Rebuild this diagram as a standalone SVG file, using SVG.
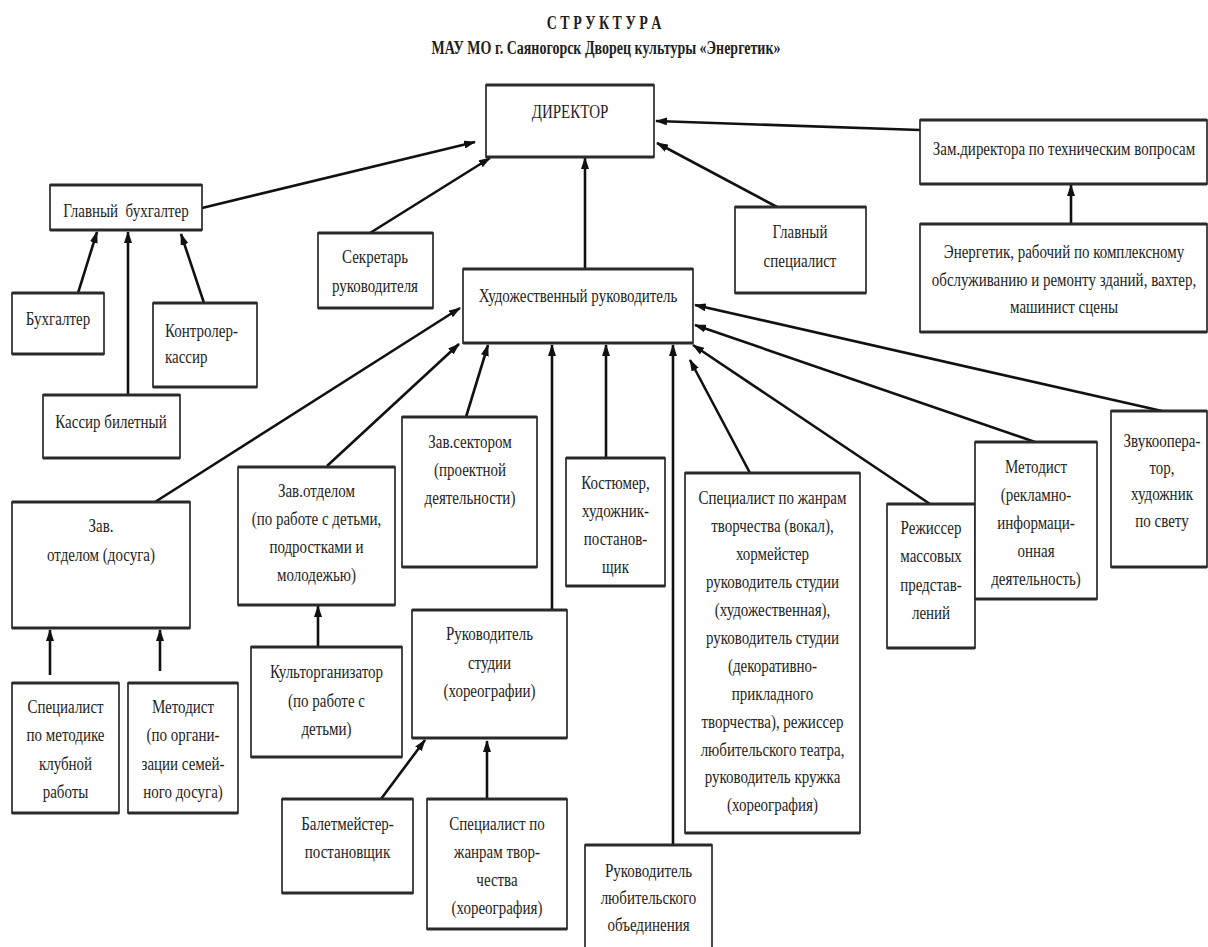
<svg xmlns="http://www.w3.org/2000/svg" width="1208" height="947" viewBox="0 0 1208 947">
<style>
.b{fill:#fff;stroke:#2a2a2a;stroke-width:1.7}
.e{fill:none;stroke:#2a2a2a;stroke-width:3}
.t{font-family:"Liberation Serif","Times New Roman",serif;font-size:15px;fill:#1e1e1e;text-anchor:middle}
.h{font-family:"Liberation Serif","Times New Roman",serif;font-size:14px;font-weight:bold;fill:#1e1e1e;text-anchor:middle}
.c line{stroke:#111;stroke-width:2.6;marker-end:url(#ah)}
</style>
<defs>
<marker id="ah" viewBox="0 0 12 8" refX="11" refY="4" markerWidth="12" markerHeight="8" orient="auto" markerUnits="userSpaceOnUse"><path d="M0,0 L12,4 L0,8 z" fill="#111"/></marker>
</defs>
<rect width="1208" height="947" fill="#fff"/>
<g id="title">
<text class="h" transform="translate(604,29) scale(1,1.3)">С Т Р У К Т У Р А</text>
<text class="h" transform="translate(606,54) scale(1,1.3)">МАУ МО г. Саяногорск Дворец культуры «Энергетик»</text>
</g>
<g id="connectors" class="c">
<line x1="202" y1="208" x2="475" y2="142"/>
<line x1="370" y1="233" x2="490" y2="158"/>
<line x1="585" y1="269" x2="585" y2="158"/>
<line x1="777" y1="207" x2="657" y2="143"/>
<line x1="920" y1="130" x2="656" y2="121"/>
<line x1="1071" y1="224" x2="1071" y2="185"/>
<line x1="78" y1="293" x2="97" y2="232"/>
<line x1="128" y1="395" x2="128" y2="232"/>
<line x1="204" y1="303" x2="181" y2="234"/>
<line x1="155" y1="502" x2="460" y2="308"/>
<line x1="327" y1="466" x2="459" y2="344"/>
<line x1="466" y1="417" x2="488" y2="345"/>
<line x1="552" y1="610" x2="552" y2="345"/>
<line x1="606" y1="458" x2="606" y2="345"/>
<line x1="673" y1="845" x2="673" y2="345"/>
<line x1="750" y1="473" x2="690" y2="360"/>
<line x1="930" y1="504" x2="693" y2="345"/>
<line x1="1035" y1="442" x2="695" y2="325"/>
<line x1="1162" y1="411" x2="695" y2="305"/>
<line x1="50" y1="675" x2="50" y2="630"/>
<line x1="160" y1="671" x2="160" y2="630"/>
<line x1="318" y1="647" x2="318" y2="606"/>
<line x1="381" y1="799" x2="425" y2="740"/>
<line x1="487" y1="799" x2="487" y2="741"/>
</g>
<g id="n-director"><rect class="b" x="486" y="85" width="168" height="72"/><path class="e" d="M486,85h168M486,157h168"/>
<text class="t" transform="translate(570,118) scale(1,1.3)"><tspan x="0" y="0">ДИРЕКТОР</tspan></text></g>
<g id="n-zam"><rect class="b" x="920" y="120" width="287" height="64"/><path class="e" d="M920,120h287M920,184h287"/>
<text class="t" transform="translate(1064,155) scale(1,1.3)"><tspan x="0" y="0">Зам.директора по техническим вопросам</tspan></text></g>
<g id="n-energetik"><rect class="b" x="920" y="224" width="287" height="108"/><path class="e" d="M920,224h287M920,332h287"/>
<text class="t" transform="translate(1064,258) scale(1,1.3)"><tspan x="0" y="0">Энергетик, рабочий по комплексному</tspan><tspan x="0" dy="21.2">обслуживанию и ремонту зданий, вахтер,</tspan><tspan x="0" dy="21.2">машинист сцены</tspan></text></g>
<g id="n-glavbuh"><rect class="b" x="50" y="185" width="152" height="45"/><path class="e" d="M50,185h152M50,230h152"/>
<text class="t" xml:space="preserve" transform="translate(126,217) scale(1,1.3)"><tspan x="0" y="0">Главный  бухгалтер</tspan></text></g>
<g id="n-buh"><rect class="b" x="12" y="293" width="92" height="61"/><path class="e" d="M12,293h92M12,354h92"/>
<text class="t" transform="translate(58,325) scale(1,1.3)"><tspan x="0" y="0">Бухгалтер</tspan></text></g>
<g id="n-kontroler"><rect class="b" x="153" y="303" width="104" height="84"/><path class="e" d="M153,303h104M153,387h104"/>
<text class="t" style="text-anchor:start" transform="translate(165,337) scale(1,1.3)"><tspan x="0" y="0">Контролер-</tspan><tspan x="0" dy="20">кассир</tspan></text></g>
<g id="n-kassir"><rect class="b" x="43" y="395" width="137" height="63"/><path class="e" d="M43,395h137M43,458h137"/>
<text class="t" transform="translate(111,428) scale(1,1.3)"><tspan x="0" y="0">Кассир билетный</tspan></text></g>
<g id="n-sekretar"><rect class="b" x="318" y="233" width="115" height="75"/><path class="e" d="M318,233h115M318,308h115"/>
<text class="t" transform="translate(375,263) scale(1,1.3)"><tspan x="0" y="0">Секретарь</tspan><tspan x="0" dy="22">руководителя</tspan></text></g>
<g id="n-glavspec"><rect class="b" x="735" y="207" width="131" height="86"/><path class="e" d="M735,207h131M735,293h131"/>
<text class="t" transform="translate(800,238) scale(1,1.3)"><tspan x="0" y="0">Главный</tspan><tspan x="0" dy="22">специалист</tspan></text></g>
<g id="n-hudruk"><rect class="b" x="463" y="269" width="230" height="74"/><path class="e" d="M463,269h230M463,343h230"/>
<text class="t" transform="translate(578,302) scale(1,1.3)"><tspan x="0" y="0">Художественный руководитель</tspan></text></g>
<g id="n-zavdosuga"><rect class="b" x="12" y="502" width="178" height="126"/><path class="e" d="M12,502h178M12,628h178"/>
<text class="t" transform="translate(101,532) scale(1,1.3)"><tspan x="0" y="0">Зав.</tspan><tspan x="0" dy="22.5">отделом (досуга)</tspan></text></g>
<g id="n-zavdeti"><rect class="b" x="238" y="467" width="157" height="138"/><path class="e" d="M238,467h157M238,605h157"/>
<text class="t" transform="translate(316.5,497) scale(1,1.3)"><tspan x="0" y="0">Зав.отделом</tspan><tspan x="0" dy="21.5">(по работе с детьми,</tspan><tspan x="0" dy="21.5">подростками и</tspan><tspan x="0" dy="21.5">молодежью)</tspan></text></g>
<g id="n-zavsektor"><rect class="b" x="402" y="417" width="135" height="150"/><path class="e" d="M402,417h135M402,567h135"/>
<text class="t" transform="translate(470,448) scale(1,1.3)"><tspan x="0" y="0">Зав.сектором</tspan><tspan x="0" dy="21.5">(проектной</tspan><tspan x="0" dy="21.5">деятельности)</tspan></text></g>
<g id="n-kostyumer"><rect class="b" x="566" y="458" width="99" height="128"/><path class="e" d="M566,458h99M566,586h99"/>
<text class="t" transform="translate(615.5,489) scale(1,1.3)"><tspan x="0" y="0">Костюмер,</tspan><tspan x="0" dy="21.5">художник-</tspan><tspan x="0" dy="21.5">постанов-</tspan><tspan x="0" dy="21.5">щик</tspan></text></g>
<g id="n-specvokal"><rect class="b" x="685" y="473" width="175" height="360"/><path class="e" d="M685,473h175M685,833h175"/>
<text class="t" transform="translate(772.5,504) scale(1,1.3)"><tspan x="0" y="0">Специалист по жанрам</tspan><tspan x="0" dy="21.5">творчества (вокал),</tspan><tspan x="0" dy="21.5">хормейстер</tspan><tspan x="0" dy="21.5">руководитель студии</tspan><tspan x="0" dy="21.5">(художественная),</tspan><tspan x="0" dy="21.5">руководитель студии</tspan><tspan x="0" dy="21.5">(декоративно-</tspan><tspan x="0" dy="21.5">прикладного</tspan><tspan x="0" dy="21.5">творчества), режиссер</tspan><tspan x="0" dy="21.5">любительского театра,</tspan><tspan x="0" dy="21.5">руководитель кружка</tspan><tspan x="0" dy="21.5">(хореография)</tspan></text></g>
<g id="n-rezhisser"><rect class="b" x="887" y="504" width="88" height="144"/><path class="e" d="M887,504h88M887,648h88"/>
<text class="t" transform="translate(931,534) scale(1,1.3)"><tspan x="0" y="0">Режиссер</tspan><tspan x="0" dy="21.8">массовых</tspan><tspan x="0" dy="21.8">представ-</tspan><tspan x="0" dy="21.8">лений</tspan></text></g>
<g id="n-metodist-reklama"><rect class="b" x="975" y="442" width="122" height="157"/><path class="e" d="M975,442h122M975,599h122"/>
<text class="t" transform="translate(1036,473) scale(1,1.3)"><tspan x="0" y="0">Методист</tspan><tspan x="0" dy="21.5">(рекламно-</tspan><tspan x="0" dy="21.5">информаци-</tspan><tspan x="0" dy="21.5">онная</tspan><tspan x="0" dy="21.5">деятельность)</tspan></text></g>
<g id="n-zvuk"><rect class="b" x="1111" y="411" width="96" height="156"/><path class="e" d="M1111,411h96M1111,567h96"/>
<text class="t" transform="translate(1162,447) scale(1,1.3)"><tspan x="0" y="0">Звукоопера-</tspan><tspan x="0" dy="20.5">тор,</tspan><tspan x="0" dy="20.5">художник</tspan><tspan x="0" dy="20.5">по свету</tspan></text></g>
<g id="n-specmetod"><rect class="b" x="12" y="683" width="107" height="130"/><path class="e" d="M12,683h107M12,813h107"/>
<text class="t" transform="translate(65.5,713) scale(1,1.3)"><tspan x="0" y="0">Специалист</tspan><tspan x="0" dy="21.8">по методике</tspan><tspan x="0" dy="21.8">клубной</tspan><tspan x="0" dy="21.8">работы</tspan></text></g>
<g id="n-metodist-semya"><rect class="b" x="128" y="683" width="110" height="130"/><path class="e" d="M128,683h110M128,813h110"/>
<text class="t" transform="translate(183,713) scale(1,1.3)"><tspan x="0" y="0">Методист</tspan><tspan x="0" dy="21.8">(по органи-</tspan><tspan x="0" dy="21.8">зации семей-</tspan><tspan x="0" dy="21.8">ного досуга)</tspan></text></g>
<g id="n-kultorg"><rect class="b" x="251" y="647" width="151" height="110"/><path class="e" d="M251,647h151M251,757h151"/>
<text class="t" transform="translate(326.5,678) scale(1,1.3)"><tspan x="0" y="0">Культорганизатор</tspan><tspan x="0" dy="22">(по работе с</tspan><tspan x="0" dy="22">детьми)</tspan></text></g>
<g id="n-rukstudii"><rect class="b" x="412" y="610" width="155" height="128"/><path class="e" d="M412,610h155M412,738h155"/>
<text class="t" transform="translate(489.5,640) scale(1,1.3)"><tspan x="0" y="0">Руководитель</tspan><tspan x="0" dy="22">студии</tspan><tspan x="0" dy="22">(хореографии)</tspan></text></g>
<g id="n-baletm"><rect class="b" x="282" y="799" width="131" height="94"/><path class="e" d="M282,799h131M282,893h131"/>
<text class="t" transform="translate(347.5,830) scale(1,1.3)"><tspan x="0" y="0">Балетмейстер-</tspan><tspan x="0" dy="21.5">постановщик</tspan></text></g>
<g id="n-spechoreo"><rect class="b" x="427" y="799" width="140" height="130"/><path class="e" d="M427,799h140M427,929h140"/>
<text class="t" transform="translate(497,830) scale(1,1.3)"><tspan x="0" y="0">Специалист по</tspan><tspan x="0" dy="21.5">жанрам твор-</tspan><tspan x="0" dy="21.5">чества</tspan><tspan x="0" dy="21.5">(хореография)</tspan></text></g>
<g id="n-ruklyub"><rect class="b" x="585" y="845" width="127" height="110"/><path class="e" d="M585,845h127"/>
<text class="t" transform="translate(648.5,877) scale(1,1.3)"><tspan x="0" y="0">Руководитель</tspan><tspan x="0" dy="20.8">любительского</tspan><tspan x="0" dy="20.8">объединения</tspan></text></g>
</svg>
